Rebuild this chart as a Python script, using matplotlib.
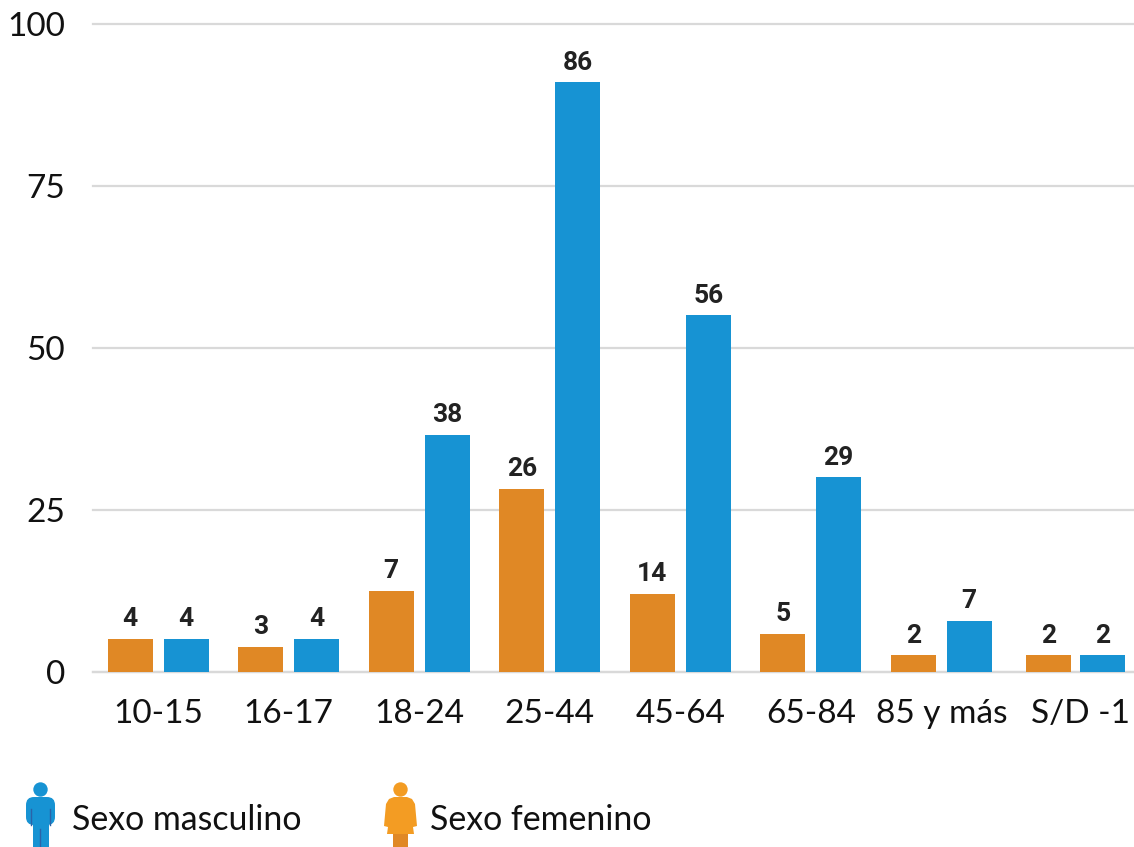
import matplotlib

matplotlib.use("Agg")
import matplotlib.pyplot as plt
from matplotlib.patches import Circle, FancyBboxPatch, Polygon, Rectangle
from matplotlib.transforms import ScaledTranslation
import numpy as np

plt.rcParams["font.family"] = ["Lato", "DejaVu Sans"]

categories = ["10-15", "16-17", "18-24", "25-44", "45-64", "65-84", "85 y más", "S/D -1"]
# bar heights do not agree with the printed labels in the original, so both are kept
female_heights = [5, 3.8, 12.4, 28.2, 12, 5.8, 2.5, 2.5]
male_heights = [5, 5, 36.5, 91, 55, 30, 7.8, 2.5]
female_labels = ["4", "3", "7", "26", "14", "5", "2", "2"]
male_labels = ["4", "4", "38", "86", "56", "29", "7", "2"]
y_ticks = [0, 25, 50, 75, 100]

ORANGE = "#e08825"
BLUE = "#1793d3"
ICON_ORANGE = "#f39c23"
DARK = "#222222"
W, H = 1134, 847
PITCH = 130.5  # px per category

fig = plt.figure(figsize=(W / 100, H / 100), dpi=100)
ax = fig.add_axes([93 / W, (H - 671.5) / H, 8 * PITCH / W, 647.5 / H])

x = np.arange(len(categories))
bar_w = 45 / PITCH
offset = 28 / PITCH
x_f = x - offset
x_m = x + offset
# the last group sits slightly to the right in the original, with a narrower gap
x_f[-1] += 5 / PITCH
x_m[-1] += 3 / PITCH
ax.bar(x_f, female_heights, bar_w, color=ORANGE, zorder=3)
ax.bar(x_m, male_heights, bar_w, color=BLUE, zorder=3)

for xs, heights, labels in [(x_f, female_heights, female_labels),
                            (x_m, male_heights, male_labels)]:
    for xi, h, lab in zip(xs, heights, labels):
        ax.annotate(lab, (xi, h), xytext=(0, 14.2), textcoords="offset points",
                    ha="center", va="center", fontsize=19, fontweight="bold",
                    color=DARK, family=["Roboto", "DejaVu Sans"])

ax.set_xlim(-0.5, len(categories) - 0.5)
ax.set_ylim(0, 100)
ax.set_yticks(y_ticks)
ax.set_xticks(x, categories)
ax.grid(axis="y", color="#d9d9d9", lw=1.6, zorder=0, clip_on=False)
ax.set_axisbelow(True)
for side in ["top", "right", "left"]:
    ax.spines[side].set_visible(False)
ax.spines["bottom"].set_color("#d9d9d9")
ax.spines["bottom"].set_linewidth(1.6)
ax.tick_params(axis="both", length=0, labelsize=24, labelcolor="#111111")
ax.tick_params(axis="y", pad=20)
ax.tick_params(axis="x", pad=20)
# the last category label is pushed right together with its bars
last = ax.get_xticklabels()[-1]
last.set_transform(last.get_transform() + ScaledTranslation(9 / 100, 0, fig.dpi_scale_trans))

# legend icons, drawn in pixel coordinates on a full-figure overlay
ov = fig.add_axes([0, 0, 1, 1], zorder=5)
ov.set_xlim(0, W)
ov.set_ylim(H, 0)
ov.axis("off")

# male figure
ov.add_patch(Circle((40.5, 789.5), 7.2, color=BLUE, lw=0))
ov.add_patch(FancyBboxPatch((26, 797), 29, 28, boxstyle="round,pad=0,rounding_size=8", color=BLUE, lw=0))
ov.add_patch(Rectangle((32.5, 815), 16, 32, color=BLUE, lw=0))
for x0, y0, y1 in [(31, 809, 825), (49.5, 809, 825), (40.3, 829, 847)]:
    ov.plot([x0, x0], [y0, y1], color="#2b62a8", lw=1)

# female figure
ov.add_patch(Circle((400.5, 789.5), 7.2, color=ICON_ORANGE, lw=0))
ov.add_patch(Polygon([(394, 797), (407, 797), (412, 799), (415, 804), (417, 826), (413, 827),
                      (414, 834), (387, 834), (388, 827), (384, 826), (386, 804), (389, 799)],
                     closed=True, color=ICON_ORANGE, lw=0))
ov.add_patch(Rectangle((393, 834), 15, 13, color=ORANGE, lw=0))

ov.text(72, 820, "Sexo masculino", fontsize=24.4, va="center", ha="left", color="#111111")
ov.text(430, 820, "Sexo femenino", fontsize=24.4, va="center", ha="left", color="#111111")

fig.savefig("out.png", dpi=100)
